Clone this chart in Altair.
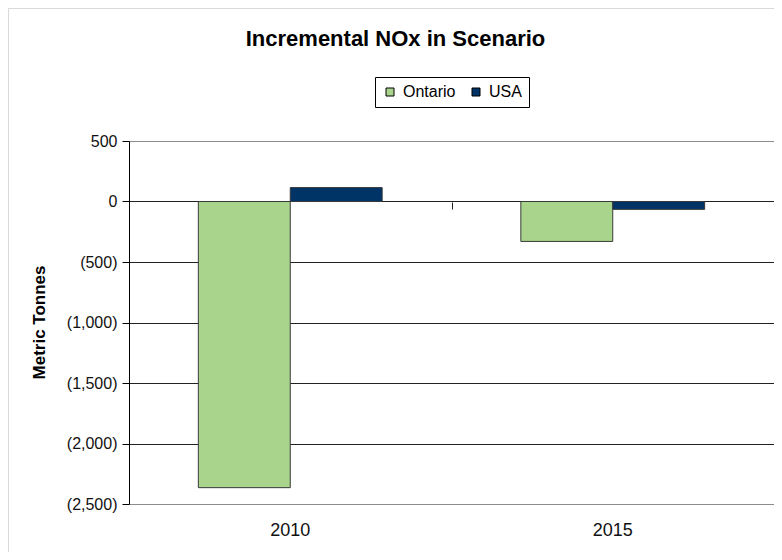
import altair as alt
import pandas as pd

years = ["2010", "2015"]
series = ["Ontario", "USA"]
ontario = [-2365, -330]
usa = [115, -65]
tick_values = [500, 0, -500, -1000, -1500, -2000, -2500]
colors = ["#A9D48C", "#003366"]

rows = []
for i, yr in enumerate(years):
    rows.append({"Year": yr, "Series": "Ontario", "Value": ontario[i]})
    rows.append({"Year": yr, "Series": "USA", "Value": usa[i]})
df = pd.DataFrame(rows)

FONT = "Liberation Sans"
W = 645
H = 363

x_scale = alt.Scale(paddingInner=0.43, paddingOuter=0.215)
y_scale = alt.Scale(domain=[-2500, 500], nice=False, zero=False)

label_expr = "datum.value < 0 ? '(' + format(-datum.value, ',') + ')' : format(datum.value, ',')"

frame = alt.Chart(pd.DataFrame({"a": [0]})).mark_rect(
    fill="transparent", stroke="#d9d9d9", strokeWidth=1, clip=False
).encode(
    x=alt.value(-120.5), x2=alt.value(720), y=alt.value(-132.5), y2=alt.value(460)
)

bars = alt.Chart(df).mark_bar(stroke="#3a3a3a", strokeWidth=1).encode(
    x=alt.X("Year:N", scale=x_scale, sort=years,
            axis=alt.Axis(title=None, labelAngle=0, ticks=False, domain=False,
                          labelFont=FONT, labelFontSize=18, labelColor="#111",
                          labelPadding=17, labelBaseline="top")),
    xOffset=alt.XOffset("Series:N", sort=series,
                        scale=alt.Scale(paddingInner=0, paddingOuter=0)),
    y=alt.Y("Value:Q", scale=y_scale,
            axis=alt.Axis(values=tick_values, labelExpr=label_expr,
                          title="Metric Tonnes", titleFont=FONT, titleFontSize=17,
                          titleFontWeight="bold", titleColor="black",
                          titleX=-85, titleY=181, titleAngle=270,
                          titleAlign="center", titleBaseline="alphabetic",
                          labelFont=FONT, labelFontSize=16, labelColor="#111",
                          labelPadding=5, tickSize=7, tickColor="black",
                          domainColor="black", grid=True,
                          gridColor={"condition": {"test": "datum.value === 500 || datum.value === -2500",
                                                   "value": "transparent"},
                                     "value": "#222222"})),
    color=alt.Color("Series:N", scale=alt.Scale(domain=series, range=colors),
                    legend=alt.Legend(title=None, orient="none", legendX=246, legendY=-64,
                                      direction="horizontal", symbolType="square",
                                      symbolSize=64, symbolStrokeColor="black",
                                      symbolStrokeWidth=1, symbolOpacity=1,
                                      labelFont=FONT, labelFontSize=16, labelColor="black",
                                      labelOffset=5, columnPadding=12, padding=7,
                                      strokeColor="black", fillColor="white")),
)

zero_ticks = alt.Chart(df).mark_bar(opacity=0).encode(
    x=alt.X("Year:N", scale=x_scale, sort=years,
            axis=alt.Axis(title=None, labels=False, domain=False, ticks=True,
                          orient="top", tickSize=7, tickColor="#222222",
                          tickOffset=W / 4, offset=-68, grid=False)),
    y=alt.Y("Value:Q", scale=y_scale, axis=None),
)

chart = alt.layer(frame, bars, zero_ticks).resolve_axis(
    x="independent", y="independent"
).properties(
    width=W,
    height=H,
    autosize=alt.AutoSizeParams(type="none"),
    padding={"left": 121, "top": 133, "right": 0, "bottom": 48},
    title=alt.TitleParams("Incremental NOx in Scenario", font=FONT, fontSize=22,
                          fontWeight="bold", anchor="middle", dx=-56, offset=-65,
                          baseline="bottom", color="black"),
).configure_view(stroke="#8c8c8c", strokeWidth=1)

chart.save("out.html", embed_options={"renderer": "svg", "actions": False})
